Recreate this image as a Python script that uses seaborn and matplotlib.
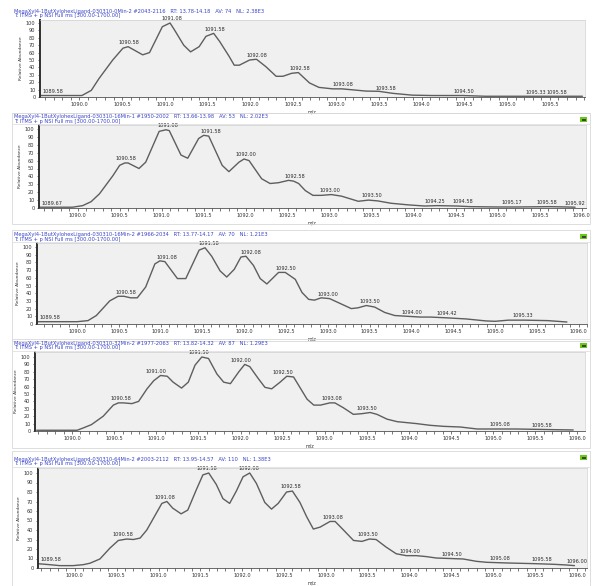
import numpy as np
import matplotlib
matplotlib.use("Agg")
import matplotlib.pyplot as plt
import seaborn as sns
from matplotlib.patches import Rectangle
from matplotlib.ticker import MultipleLocator, FormatStrFormatter

sns.set_style("white")
plt.rcParams['font.family'] = ['DejaVu Sans']

# ---- data ----
hdr1 = "MegaXyl4-1ButXylohexLigand-030310-0Min-2 #2043-2116   RT: 13.78-14.18   AV: 74   NL: 2.38E3"
hdr2 = "MegaXyl4-1ButXylohexLigand-030310-16Min-1 #1950-2002   RT: 13.66-13.98   AV: 53   NL: 2.02E3"
hdr3 = "MegaXyl4-1ButXylohexLigand-030310-16Min-2 #1966-2034   RT: 13.77-14.17   AV: 70   NL: 1.21E3"
hdr4 = "MegaXyl4-1ButXylohexLigand-030310-32Min-2 #1977-2063   RT: 13.82-14.32   AV: 87   NL: 1.29E3"
hdr5 = "MegaXyl4-1ButXylohexLigand-030310-64Min-2 #2003-2112   RT: 13.95-14.57   AV: 110   NL: 1.38E3"
scan = "T: ITMS + p NSI Full ms [300.00-1700.00]"

mz1 = [1089.55, 1089.75, 1089.95, 1090.03, 1090.14, 1090.23, 1090.39, 1090.51, 1090.57, 1090.74, 1090.82,
       1090.97, 1091.06, 1091.11, 1091.22, 1091.30, 1091.40, 1091.48, 1091.57, 1091.64, 1091.75, 1091.81,
       1091.87, 1091.99, 1092.07, 1092.18, 1092.30, 1092.38, 1092.48, 1092.56, 1092.69, 1092.80, 1092.96,
       1093.07, 1093.35, 1093.50, 1093.66, 1093.89, 1094.12, 1094.48, 1094.75, 1095.30, 1095.88]
ab1 = [2, 2, 2, 2, 9, 25, 50, 66, 68, 57, 60,
       95, 100, 91, 70, 61, 68, 82, 86, 75, 55, 43,
       43, 50, 51, 41, 28, 28, 32, 33, 19, 13, 11,
       11, 8, 7.7, 5, 2.5, 2, 2, 1, 1, 1]
lab1 = [1089.58, 1090.58, 1091.08, 1091.58, 1092.08, 1092.58, 1093.08, 1093.58, 1094.50, 1095.33, 1095.58]

mz2 = [1089.55, 1089.75, 1089.94, 1090.06, 1090.16, 1090.26, 1090.42, 1090.50, 1090.56, 1090.60, 1090.73,
       1090.81, 1090.97, 1091.05, 1091.09, 1091.23, 1091.31, 1091.44, 1091.50, 1091.56, 1091.72, 1091.80,
       1091.92, 1091.98, 1092.04, 1092.19, 1092.29, 1092.39, 1092.51, 1092.57, 1092.63, 1092.71, 1092.80,
       1092.90, 1093.02, 1093.14, 1093.34, 1093.46, 1093.57, 1093.73, 1093.93, 1094.13, 1094.28, 1094.52,
       1094.67, 1094.99, 1095.23, 1095.62, 1095.82, 1095.92]
ab2 = [1, 1, 1, 3, 8, 18, 41, 54, 57, 57, 50,
       58, 97, 99, 98, 67, 63, 88, 92, 91, 54, 46,
       58, 62, 60, 37, 31, 32, 35, 34, 31, 22, 16,
       16, 17, 15, 8.5, 10, 9, 6, 4, 2.5, 3, 2.5,
       1.7, 1.3, 1.3, 1.7, 1.3, 1]
lab2 = [1089.67, 1090.58, 1091.08, 1091.58, 1092.00, 1092.58, 1093.00, 1093.50, 1094.25, 1094.58,
        1095.17, 1095.58, 1095.92]

mz3 = [1089.53, 1089.80, 1090.00, 1090.13, 1090.23, 1090.39, 1090.49, 1090.56, 1090.64, 1090.72, 1090.82,
       1090.93, 1090.99, 1091.05, 1091.20, 1091.30, 1091.46, 1091.53, 1091.61, 1091.71, 1091.79, 1091.88,
       1091.96, 1092.02, 1092.11, 1092.19, 1092.27, 1092.41, 1092.49, 1092.61, 1092.69, 1092.77, 1092.84,
       1092.92, 1093.02, 1093.12, 1093.28, 1093.36, 1093.46, 1093.56, 1093.68, 1093.80, 1093.95, 1094.11,
       1094.23, 1094.42, 1094.65, 1094.89, 1095.00, 1095.16, 1095.35, 1095.63, 1095.86]
ab3 = [3, 3, 3, 4.4, 11, 30, 36, 36, 34, 34, 48,
       78, 82, 81, 59, 59, 96, 99, 88, 69, 61, 71,
       87, 88, 76, 59, 52, 67, 67, 58, 41, 32, 31,
       34, 33, 28, 20, 21, 24, 22, 15, 11, 10, 9,
       9, 8, 6.6, 4, 3.5, 5, 5, 4.4, 2.6]
lab3 = [1089.58, 1090.58, 1091.08, 1091.58, 1092.08, 1092.50, 1093.00, 1093.50, 1094.00, 1094.42, 1095.33]

mz4 = [1089.58, 1089.80, 1090.06, 1090.13, 1090.23, 1090.37, 1090.49, 1090.55, 1090.61, 1090.71, 1090.79,
       1090.89, 1090.97, 1091.05, 1091.13, 1091.20, 1091.30, 1091.38, 1091.46, 1091.54, 1091.62, 1091.72,
       1091.80, 1091.88, 1091.98, 1092.05, 1092.11, 1092.21, 1092.29, 1092.37, 1092.47, 1092.55, 1092.63,
       1092.71, 1092.79, 1092.87, 1092.95, 1093.06, 1093.12, 1093.22, 1093.34, 1093.44, 1093.54, 1093.62,
       1093.74, 1093.86, 1094.09, 1094.25, 1094.41, 1094.61, 1094.81, 1095.00, 1095.28, 1095.48, 1095.72,
       1095.95]
ab4 = [1, 1, 1, 4, 8.6, 20, 35, 38, 38, 37, 40,
       57, 68, 75, 74, 66, 58, 66, 89, 100, 98, 77,
       66, 64, 80, 90, 87, 71, 59, 57, 66, 74, 73,
       58, 43, 35, 35, 38, 38, 31.5, 22.5, 23.4, 25, 22.5,
       16, 12.6, 10, 7.7, 6.3, 5.4, 2.7, 2.7, 2.7, 2.3, 1.8,
       1.4]
lab4 = [1090.58, 1091.00, 1091.50, 1092.00, 1092.50, 1093.08, 1093.50, 1095.08, 1095.58]

mz5 = [1089.56, 1089.70, 1089.82, 1089.98, 1090.10, 1090.18, 1090.30, 1090.42, 1090.52, 1090.62, 1090.70,
       1090.78, 1090.86, 1091.04, 1091.10, 1091.17, 1091.27, 1091.35, 1091.45, 1091.53, 1091.60, 1091.69,
       1091.77, 1091.85, 1091.93, 1092.01, 1092.09, 1092.17, 1092.27, 1092.35, 1092.43, 1092.53, 1092.60,
       1092.69, 1092.77, 1092.85, 1092.93, 1093.05, 1093.11, 1093.21, 1093.33, 1093.43, 1093.52, 1093.60,
       1093.72, 1093.84, 1093.96, 1094.08, 1094.20, 1094.32, 1094.48, 1094.64, 1094.80, 1094.92, 1095.16,
       1095.48, 1095.72, 1095.87, 1095.97]
ab5 = [4.5, 3.5, 2.5, 2.5, 3.5, 5, 9.5, 21, 29, 30.5, 30,
       31.5, 40, 68, 70, 63, 57, 61, 82, 98, 100, 88,
       73, 68, 81, 96, 100, 89, 69, 62, 68, 80, 81,
       69, 54, 41, 43, 49, 49, 40, 29, 28, 30.5, 30,
       22, 15, 13, 13, 12, 10.5, 10, 9.5, 7, 6, 5.3,
       4.6, 3.9, 3.2, 2.5]
lab5 = [1089.58, 1090.58, 1091.08, 1091.58, 1092.08, 1092.58, 1093.08, 1093.50, 1094.00, 1094.50,
        1095.08, 1095.58, 1096.00]

# ---- layout (pixel positions of each panel in a 600x586 image) ----
W, H = 600, 586
panels = [
    # header, mz, ab, labels, left, right, y100, y0, boxtop, xlim
    (hdr1, mz1, ab1, lab1, 40, 585, 23, 97, 20, (1089.54, 1095.91)),
    (hdr2, mz2, ab2, lab2, 39, 586, 129, 208, 125, (1089.54, 1096.05)),
    (hdr3, mz3, ab3, lab3, 37, 587, 247, 324, 243, (1089.52, 1096.10)),
    (hdr4, mz4, ab4, lab4, 35, 585, 357, 431, 352, (1089.56, 1096.09)),
    (hdr5, mz5, ab5, lab5, 38, 587, 473, 568, 468, (1089.56, 1096.12)),
]
frames = [None, (113, 224), (230, 341), (339, 448), (451, 586)]

fig = plt.figure(figsize=(6, 5.86), dpi=100)
fig.patch.set_facecolor("white")

blue = "#3a44c8"
fsz = 3.6

for i, (hdr, mz, ab, labs, L, R, y100, y0, top, xl) in enumerate(panels):
    # panel frame and header strip
    if frames[i] is not None:
        ft, fb = frames[i]
        fig.patches.append(Rectangle((12 / W, 1 - fb / H), (590 - 12) / W, (fb - ft) / H,
                                     transform=fig.transFigure, fill=False, ec="#d8d8d8", lw=0.6))
        fig.lines.append(plt.Line2D([12 / W, 590 / W], [1 - (top - 1) / H] * 2,
                                    transform=fig.transFigure, color="#e0e0e0", lw=0.6))
        fig.patches.append(Rectangle((580 / W, 1 - (ft + 9) / H), 7 / W, 5 / H,
                                     transform=fig.transFigure, fc="#66cc11", ec="none"))
        fig.patches.append(Rectangle((582 / W, 1 - (ft + 8) / H), 3.5 / W, 2.5 / H,
                                     transform=fig.transFigure, fc="#404040", ec="none"))
    else:
        fig.lines.append(plt.Line2D([12 / W, 590 / W], [1 - 113 / H] * 2,
                                    transform=fig.transFigure, color="#d8d8d8", lw=0.6))

    ax = fig.add_axes([L / W, 1 - y0 / H, (R - L) / W, (y0 - top) / H])
    ax.set_facecolor("#f0f0f0")
    sns.lineplot(x=mz, y=ab, ax=ax, color="#5e5e5e", linewidth=1.0)
    ax.set_xlim(*xl)
    ax.set_ylim(0, 100 * (y0 - top) / (y0 - y100))

    for s in ["top", "right"]:
        ax.spines[s].set_color("#d0d0d0")
        ax.spines[s].set_linewidth(0.5)
    ax.spines["left"].set_color("#303030")
    ax.spines["left"].set_linewidth(1.4)
    ax.spines["bottom"].set_color("#505050")
    ax.spines["bottom"].set_linewidth(0.6)

    ax.xaxis.set_major_locator(MultipleLocator(0.5))
    ax.xaxis.set_minor_locator(MultipleLocator(0.1))
    ax.xaxis.set_major_formatter(FormatStrFormatter("%.1f"))
    ax.yaxis.set_major_formatter(FormatStrFormatter("%d"))
    ax.tick_params(axis="x", which="both", bottom=True, direction="out", length=2.2, width=0.5,
                   color="#404040", labelsize=fsz, pad=1.5, labelcolor="#333333")
    ax.tick_params(axis="y", which="both", left=True, direction="out", length=1.8, width=0.5,
                   color="#404040", labelsize=fsz, pad=1.5, labelcolor="#333333")
    ax.set_yticks(np.arange(0, 101, 10))

    ax.set_xlabel("m/z", fontsize=3.4, color="#333333", labelpad=1.5)
    ax.set_ylabel("Relative Abundance", fontsize=3.2, color="#333333", labelpad=2)

    # peak labels
    mza, aba = np.array(mz), np.array(ab)
    for lab in labs:
        near = np.abs(mza - lab) < 0.06
        yv = aba[near].max() if near.any() else np.interp(lab, mza, aba)
        if lab - xl[0] < 0.15:
            # first label sits just right of the y axis
            ax.annotate(f"{lab:.2f}", (xl[0], yv), xytext=(1.5, 1.2), textcoords="offset points",
                        ha="left", va="bottom", fontsize=fsz, color="#2a2a2a", annotation_clip=False)
        else:
            ax.annotate(f"{lab:.2f}", (lab, yv), xytext=(0, 1.2), textcoords="offset points",
                        ha="center", va="bottom", fontsize=fsz, color="#2a2a2a", annotation_clip=False)

    # header lines
    fig.text(14 / W, 1 - (top - 8.5) / H, hdr, fontsize=3.7, color=blue, ha="left", va="center")
    fig.text(14 / W, 1 - (top - 4) / H, scan, fontsize=3.7, color=blue, ha="left", va="center")

fig.savefig("out.png", dpi=100, facecolor="white")
